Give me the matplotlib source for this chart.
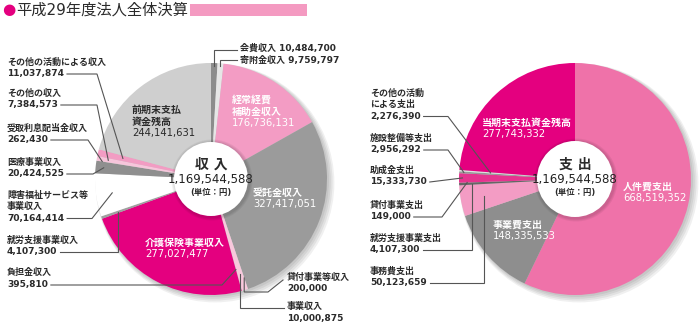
import numpy as np
import matplotlib
matplotlib.use('Agg')
import matplotlib.pyplot as plt
from matplotlib.patches import Circle, Rectangle

plt.rcParams['font.family'] = ['DejaVu Sans', 'Noto Sans CJK JP']

TOTAL_LABEL = '1,169,544,588'

# 収入 (時計回り、12時の位置から)
in_names = ['会費収入', '寄附金収入', '経常経費補助金収入', '受託金収入', '貸付事業等収入',
            '事業収入', '負担金収入', '介護保険事業収入', '就労支援事業収入',
            '障害福祉サービス等事業収入', '医療事業収入', '受取利息配当金収入',
            'その他の収入', 'その他の活動による収入', '前期末支払資金残高']
in_values = [10484700, 9759797, 176736131, 327417051, 200000,
             10000875, 395810, 277027477, 4107300,
             70164414, 20424525, 262430,
             7384573, 11037874, 244141631]
in_colors = ['#8c8c8c', '#e6e6e6', '#f39cc4', '#9b9b9b', '#dddddd',
             '#f8c8dc', '#cccccc', '#e4007f', '#a0a0a0',
             '#ffffff', '#8f8f8f', '#bbbbbb',
             '#f7c5db', '#f29cc3', '#cfcfcf']

# 支出
out_names = ['人件費支出', '事業費支出', '事務費支出', '就労支援事業支出', '貸付事業支出',
             '助成金支出', '施設整備等支出', 'その他の活動による支出', '当期末支払資金残高']
out_values = [668519352, 148335533, 50123659, 4107300, 149000,
              15333730, 2956292, 2276390, 277743332]
out_colors = ['#ef72a9', '#8e8e8e', '#f39cc4', '#666666', '#aaaaaa',
              '#e6338f', '#999999', '#e0e0e0', '#e4007f']


def fmt(v):
    return f'{v:,}'


fig = plt.figure(figsize=(7, 3.3), dpi=100)
ax = fig.add_axes([0, 0, 1, 1])

LINE = '#555555'
TXT = '#2a2a2a'


def draw_pie(cx, cy, R, r, values, colors):
    # soft shadow
    for k in range(4):
        ax.add_patch(Circle((cx + 1.5 + k * 0.8, cy + 1.5 + k * 0.8), R + 0.5 + k,
                            color='k', alpha=0.06, lw=0, zorder=0.5))
    ax.pie(values, colors=colors, startangle=-90, counterclock=True,
           radius=R, center=(cx, cy), wedgeprops=dict(linewidth=0))
    for k in range(3):
        ax.add_patch(Circle((cx + 1, cy + 1), r + 1.5 + k, color='k',
                            alpha=0.05, lw=0, zorder=2))
    ax.add_patch(Circle((cx, cy), r, color='white', lw=0, zorder=3))


def pie_point(cx, cy, R, values, i, frac):
    cum = np.cumsum(values)
    mid = (cum[i] - values[i] / 2) / cum[-1] * 2 * np.pi
    return cx + frac * R * np.sin(mid), cy - frac * R * np.cos(mid)


def text_lines(x, y0, strs, color=TXT, size=6.5, dy=11.5, num_weight='bold'):
    # 最終行は金額
    ts = []
    for j, s in enumerate(strs):
        w = num_weight if j == len(strs) - 1 else 'bold'
        ts.append(ax.text(x, y0 + j * dy, s, color=color, fontsize=size,
                          ha='left', va='center', zorder=5, fontweight=w))
    return ts


def leader(pts):
    xs, ys = zip(*pts)
    ax.plot(xs, ys, color=LINE, lw=0.8, zorder=4, solid_joinstyle='miter')


LCX, LCY, LR, Lr = 211, 179, 116, 37
RCX, RCY, RR, Rr = 575, 179, 116, 38

draw_pie(LCX, LCY, LR, Lr, in_values, in_colors)
draw_pie(RCX, RCY, RR, Rr, out_values, out_colors)

ax.set_xlim(0, 700)
ax.set_ylim(330, 0)
ax.set_aspect('equal')
ax.axis('off')

renderer = fig.canvas.get_renderer()


def text_end(t):
    bb = t.get_window_extent(renderer)
    return ax.transData.inverted().transform((bb.x1, bb.y0))[0] + 3


# 左側のラベル (収入)
left_labels = [
    (13, ['その他の活動による収入', fmt(in_values[13])], 62, ('h', 97, 0.78)),
    (12, ['その他の収入', fmt(in_values[12])], 93, ('h', 97, 0.9)),
    (11, ['受取利息配当金収入', fmt(in_values[11])], 128, ('h', 88, 0.95)),
    (10, ['医療事業収入', fmt(in_values[10])], 162, ('h', 93, 0.93)),
    (9, ['障害福祉サービス等', '事業収入', fmt(in_values[9])], 195, ('h', 92, 0.86)),
    (8, ['就労支援事業収入', fmt(in_values[8])], 240, ('v', None, 0.85)),
    (6, ['負担金収入', fmt(in_values[6])], 273, ('h', 222, 0.81)),
]
right_labels = [
    (7, ['その他の活動', 'による支出', fmt(out_values[7])], 93, ('h', 448, 0.73)),
    (6, ['施設整備等支出', fmt(out_values[6])], 138, ('h', 448, 0.96)),
    (5, ['助成金支出', fmt(out_values[5])], 170, ('d', None, 0.97)),
    (4, ['貸付事業支出', fmt(out_values[4])], 205, ('h', 442, 0.93)),
    (3, ['就労支援事業支出', fmt(out_values[3])], 238, ('v', None, 0.89)),
    (2, ['事務費支出', fmt(out_values[2])], 271, ('v', None, 0.8)),
]


def side_labels(x, labels, cx, cy, R, values):
    for i, strs, y0, (kind, xe, frac) in labels:
        ts = text_lines(x, y0, strs)
        yl = y0 + (len(strs) - 1) * 11.5 + 0.5
        x0 = text_end(ts[-1])
        p = pie_point(cx, cy, R, values, i, frac)
        if kind == 'h':
            leader([(x0, yl), (xe, yl), p])
        elif kind == 'v':
            leader([(x0, yl), (p[0], yl), p])
        else:
            leader([(x0, yl), p])


side_labels(7, left_labels, LCX, LCY, LR, in_values)
side_labels(370, right_labels, RCX, RCY, RR, out_values)

# 収入円グラフ右側・上側のラベル
text_lines(287, 277, ['貸付事業等収入', fmt(in_values[4])])
p = pie_point(LCX, LCY, LR, in_values, 4, 0.9)
leader([p, (p[0], 292), (268, 292), (283, 280)])

text_lines(287, 307, ['事業収入', fmt(in_values[5])])
p = pie_point(LCX, LCY, LR, in_values, 5, 0.86)
leader([p, (p[0], 308), (284, 308)])

text_lines(240, 48, ['会費収入 ' + fmt(in_values[0])])
p = pie_point(LCX, LCY, LR, in_values, 0, 0.975)
leader([p, (p[0], 50), (237, 50)])

text_lines(240, 60, ['寄附金収入 ' + fmt(in_values[1])])
p = pie_point(LCX, LCY, LR, in_values, 1, 0.975)
leader([p, (p[0], 60), (237, 60)])

# 円グラフ内のラベル
inner = dict(size=7.2, num_weight='normal')
text_lines(132, 110, ['前期末支払', '資金残高', fmt(in_values[14])], **inner)
text_lines(232, 100, ['経常経費', '補助金収入', fmt(in_values[2])], color='white', **inner)
text_lines(253, 193, ['受託金収入', fmt(in_values[3])], color='white', **inner)
text_lines(145, 243, ['介護保険事業収入', fmt(in_values[7])], color='white', **inner)

text_lines(482, 123, ['当期末支払資金残高', fmt(out_values[8])], color='white', **inner)
text_lines(623, 187, ['人件費支出', fmt(out_values[0])], color='white', **inner)
text_lines(493, 225, ['事業費支出', fmt(out_values[1])], color='white', **inner)

# 中央の合計
for cx, cy, head in [(LCX, LCY, '収 入'), (RCX, RCY, '支 出')]:
    ax.text(cx, cy - 14, head, ha='center', va='center', fontsize=10,
            fontweight='bold', color=TXT, zorder=6)
    ax.text(cx, cy + 1, TOTAL_LABEL, ha='center', va='center', fontsize=8.5,
            color='#222222', zorder=6)
    ax.text(cx, cy + 14, '(単位：円)', ha='center', va='center', fontsize=6,
            fontweight='bold', color=TXT, zorder=6)

# タイトル
ax.text(2, 10, '●', color='#e4007f', fontsize=11, ha='left', va='center')
ax.text(16, 10, '平成29年度法人全体決算', color=TXT, fontsize=11, ha='left', va='center')
ax.add_patch(Rectangle((190, 4), 117, 12, color='#f49ac1', lw=0))

fig.savefig('out.png', dpi=100)
